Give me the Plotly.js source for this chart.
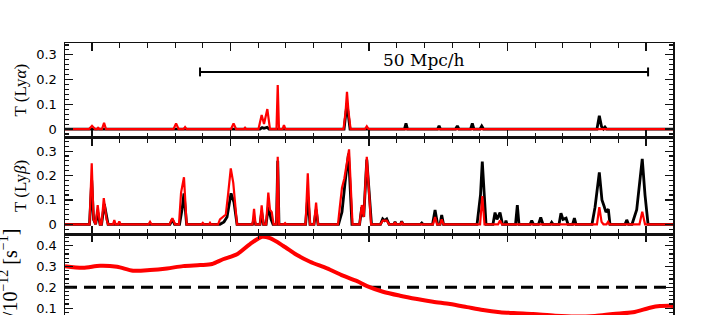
<!DOCTYPE html>
<html>
<head>
<meta charset="utf-8">
<script src="https://cdn.plot.ly/plotly-3.0.1.min.js"></script>
<style>
  html, body { margin: 0; padding: 0; background: #fff; overflow: hidden; }
  #wrap { width: 715px; height: 315px; overflow: hidden; position: relative; }
  #chart { width: 715px; height: 375px; }
</style>
</head>
<body>
<div id="wrap"><div id="chart"></div></div>
<script>
// ---------- DATA (velocity in km/s) ----------
// Panel 1: Ly-alpha transmission
const lyaRedV = [805,979,1000,1022,1036,1044,1054,1072,1087,1101,1589,1607,1625,1661,1672,1683,2004,2022,2040,2098,2105,2112,2202,2225,2242,2266,2285,2332,2341,2350,2376,2386,2397,2816,2831,2841,2852,2867,2971,2984,2997,5195];
const lyaRedT = [0,0,0.013,0,0,0.005,0,0,0.025,0,0,0.023,0,0,0.008,0,0,0.023,0,0,0.005,0,0,0.057,0.02,0.081,0,0,0.178,0,0,0.016,0,0,0.07,0.151,0.07,0,0,0.011,0,0];

const lyaBlackV = [805,2213,2228,2242,2264,2278,2820,2831,2841,2852,2863,3256,3267,3278,3495,3506,3516,3625,3638,3650,3733,3746,3758,3802,3814,3827,4646,4663,4679,4693,4704,4715,5195];
const lyaBlackT = [0,0,0.006,0.003,0.007,0,0,0.05,0.104,0.05,0,0,0.023,0,0,0.013,0,0,0.013,0,0,0.023,0,0,0.012,0,0,0.054,0.01,0,0.008,0,0];

// Panel 2: Ly-beta transmission
const lybRedV = [805,928,942,957,982,998,1011,1026,1041,1058,1069,1085,1105,1116,1152,1161,1170,1188,1197,1206,1408,1419,1430,1560,1580,1600,1628,1643,1664,1683,1791,1800,1809,1845,1852,1859,1910,1924,1966,1982,2002,2020,2033,2047,2159,2170,2181,2213,2225,2238,2257,2273,2285,2298,2311,2332,2341,2350,2386,2394,2401,2542,2558,2574,2603,2618,2632,2776,2791,2805,2822,2856,2881,2932,2948,2962,2984,3000,3015,3083,3099,3128,3145,3181,3188,3195,3228,3236,3246,3462,3477,3491,3513,3525,3538,3802,3818,3834,3932,3946,3960,4646,4663,4679,4693,4715,4726,4737,4953,4973,4993,5195];
const lybRedT = [0,0,0.003,0,0,0.25,0.02,0,0.079,0,0,0.107,0.02,0,0,0.017,0,0,0.012,0,0,0.01,0,0,0.025,0,0,0.13,0.193,0,0,0.006,0,0,0.006,0,0,0.02,0.04,0.12,0.229,0.17,0.1,0,0,0.063,0,0,0.078,0,0,0.13,0.06,0.05,0,0,0.277,0,0,0.005,0,0,0.209,0,0,0.089,0,0,0.08,0.15,0.188,0.307,0,0,0.079,0.03,0.277,0.15,0,0,0.015,0.015,0,0,0.008,0,0,0.01,0,0,0.03,0,0,0.02,0,0,0.116,0,0,0.015,0,0,0.07,0.01,0,0,0.01,0,0,0.052,0,0];

const lybBlackV = [805,982,998,1011,1026,1041,1058,1069,1089,1109,1116,1563,1580,1596,1632,1650,1664,1683,1924,1953,1975,2004,2025,2047,2159,2170,2181,2213,2225,2238,2257,2273,2293,2307,2332,2341,2350,2542,2558,2574,2603,2618,2632,2780,2805,2827,2852,2877,2932,2948,2962,2984,3004,3018,3083,3099,3113,3128,3145,3181,3188,3195,3228,3236,3246,3372,3381,3390,3459,3477,3495,3513,3525,3538,3780,3805,3818,3830,3845,3895,3910,3924,3946,3964,3982,3989,3997,4058,4071,4083,4163,4175,4188,4224,4240,4256,4311,4319,4329,4372,4386,4401,4423,4437,4470,4483,4495,4610,4632,4663,4682,4697,4711,4728,4740,4849,4861,4874,4899,4933,4957,4973,4993,5015,5195];
const lybBlackT = [0,0,0.18,0.02,0,0.05,0,0,0.083,0.01,0,0,0.02,0,0,0.06,0.127,0,0,0.01,0.03,0.127,0.09,0,0,0.02,0,0,0.05,0,0,0.072,0.02,0,0,0.26,0,0,0.113,0,0,0.06,0,0,0.05,0.17,0.29,0,0,0.07,0.03,0.265,0.12,0,0,0.022,0.015,0.022,0,0,0.01,0,0,0.012,0,0,0.005,0,0,0.059,0,0,0.038,0,0,0.12,0.257,0.12,0,0,0.048,0.02,0.048,0,0,0.015,0,0,0.079,0,0,0.015,0,0,0.028,0,0,0.008,0,0,0.045,0.02,0.025,0,0,0.025,0,0,0.07,0.213,0.1,0.075,0.05,0.062,0,0,0.018,0,0,0.06,0.2,0.268,0.12,0,0];

// Panel 3: photoionisation rate
const gammaV = [805,935,1058,1181,1296,1419,1542,1657,1780,1867,1946,2047,2141,2228,2285,2379,2480,2574,2697,2812,2914,2986,3101,3224,3347,3462,3585,3708,3823,3946,4069,4184,4343,4488,4632,4762,4906,5029,5101,5195];
const gammaG = [0.302,0.294,0.304,0.299,0.28,0.283,0.291,0.302,0.307,0.312,0.335,0.359,0.408,0.443,0.436,0.40,0.355,0.323,0.291,0.256,0.23,0.206,0.179,0.16,0.144,0.131,0.12,0.105,0.091,0.081,0.076,0.072,0.064,0.060,0.063,0.072,0.08,0.102,0.11,0.111];
const gammaMeanV = [805, 5195];
const gammaMean = [0.2, 0.2];

// Scale bar (50 Mpc/h)
const scaleBarStart = 1780, scaleBarEnd = 5015, scaleBarT = 0.231, scaleBarCap = 0.018;
const scaleBarLabel = '50 Mpc/h';

// ---------- PLOT ----------
const RED = '#ff0000', BLACK = '#000000';
const traces = [
  {x: lyaBlackV, y: lyaBlackT, xaxis: 'x3', yaxis: 'y3', mode: 'lines', line: {color: BLACK, width: 2.8}, hoverinfo: 'skip'},
  {x: lyaRedV, y: lyaRedT, xaxis: 'x3', yaxis: 'y3', mode: 'lines', line: {color: RED, width: 2.2}, hoverinfo: 'skip'},
  {x: lybBlackV, y: lybBlackT, xaxis: 'x2', yaxis: 'y2', mode: 'lines', line: {color: BLACK, width: 2.8}, hoverinfo: 'skip'},
  {x: lybRedV, y: lybRedT, xaxis: 'x2', yaxis: 'y2', mode: 'lines', line: {color: RED, width: 2.2}, hoverinfo: 'skip'},
  {x: gammaMeanV, y: gammaMean, xaxis: 'x', yaxis: 'y', mode: 'lines', line: {color: BLACK, width: 3, dash: '12px,7px'}, hoverinfo: 'skip'},
  {x: gammaV, y: gammaG, xaxis: 'x', yaxis: 'y', mode: 'lines', line: {color: RED, width: 4, shape: 'spline', smoothing: 0.8}, hoverinfo: 'skip'}
];

const AX = '#111';
function xAxis(extra) {
  return Object.assign({
    range: [805, 5195], tick0: 1000, dtick: 1000, ticks: 'inside', ticklen: 8, tickwidth: 1.2, tickcolor: AX,
    minor: {dtick: 200, ticks: 'inside', ticklen: 5, tickwidth: 1.1, tickcolor: AX},
    showline: true, linecolor: AX, linewidth: 1.5, mirror: 'ticks', showgrid: false, zeroline: false,
    showticklabels: false
  }, extra);
}
function yAxis(extra) {
  return Object.assign({
    dtick: 0.1, tick0: 0, ticks: 'inside', ticklen: 8, tickwidth: 1.2, tickcolor: AX,
    minor: {dtick: 0.02, ticks: 'inside', ticklen: 4, tickwidth: 1.1, tickcolor: AX},
    showline: true, linecolor: AX, linewidth: 1.5, mirror: 'ticks', showgrid: false, zeroline: false,
    tickfont: {family: 'DejaVu Sans', size: 13, color: '#000'}, ticklabelstandoff: 4
  }, extra);
}

const layout = {
  width: 715, height: 375,
  margin: {l: 65, r: 42, t: 43, b: 46},
  paper_bgcolor: '#fff', plot_bgcolor: '#fff',
  showlegend: false,
  xaxis: xAxis({anchor: 'y'}),
  xaxis2: xAxis({anchor: 'y2', matches: 'x'}),
  xaxis3: xAxis({anchor: 'y3', matches: 'x'}),
  yaxis: yAxis({domain: [0, 0.332], range: [0, 0.456], anchor: 'x'}),
  yaxis2: yAxis({domain: [0.332, 0.668], range: [-0.04, 0.354], anchor: 'x2'}),
  yaxis3: yAxis({domain: [0.668, 1], range: [-0.036, 0.348], anchor: 'x3'}),
  shapes: [
    {type: 'line', xref: 'x3', yref: 'y3', x0: scaleBarStart, x1: scaleBarEnd, y0: scaleBarT, y1: scaleBarT, line: {color: BLACK, width: 2}},
    {type: 'line', xref: 'x3', yref: 'y3', x0: scaleBarStart, x1: scaleBarStart, y0: scaleBarT - scaleBarCap, y1: scaleBarT + scaleBarCap, line: {color: BLACK, width: 2}},
    {type: 'line', xref: 'x3', yref: 'y3', x0: scaleBarEnd, x1: scaleBarEnd, y0: scaleBarT - scaleBarCap, y1: scaleBarT + scaleBarCap, line: {color: BLACK, width: 2}}
  ],
  annotations: [
    {xref: 'x3', yref: 'y3', x: (scaleBarStart + scaleBarEnd) / 2, y: 0.28, text: scaleBarLabel, showarrow: false,
     xanchor: 'center', yanchor: 'middle', font: {family: 'DejaVu Serif', size: 17, color: '#000'}},
    {xref: 'paper', yref: 'y3 domain', x: 0, y: 0.5, xshift: -45, xanchor: 'center', yanchor: 'middle', textangle: -90,
     text: 'T (Ly<i>α</i>)', showarrow: false, font: {family: 'Liberation Serif', size: 17, color: '#000'}},
    {xref: 'paper', yref: 'y2 domain', x: 0, y: 0.5, xshift: -45, xanchor: 'center', yanchor: 'middle', textangle: -90,
     text: 'T (Ly<i>β</i>)', showarrow: false, font: {family: 'Liberation Serif', size: 17, color: '#000'}},
    {xref: 'paper', yref: 'y domain', x: 0, y: 0.5, xshift: -55, yshift: -5, xanchor: 'center', yanchor: 'middle', textangle: -90,
     text: 'Γ<sub>HI</sub>/10<sup>−12</sup> [s<sup>−1</sup>]', showarrow: false, font: {family: 'Liberation Serif', size: 20, color: '#000'}}
  ]
};

Plotly.newPlot('chart', traces, layout, {staticPlot: true, displayModeBar: false});
</script>
</body>
</html>
